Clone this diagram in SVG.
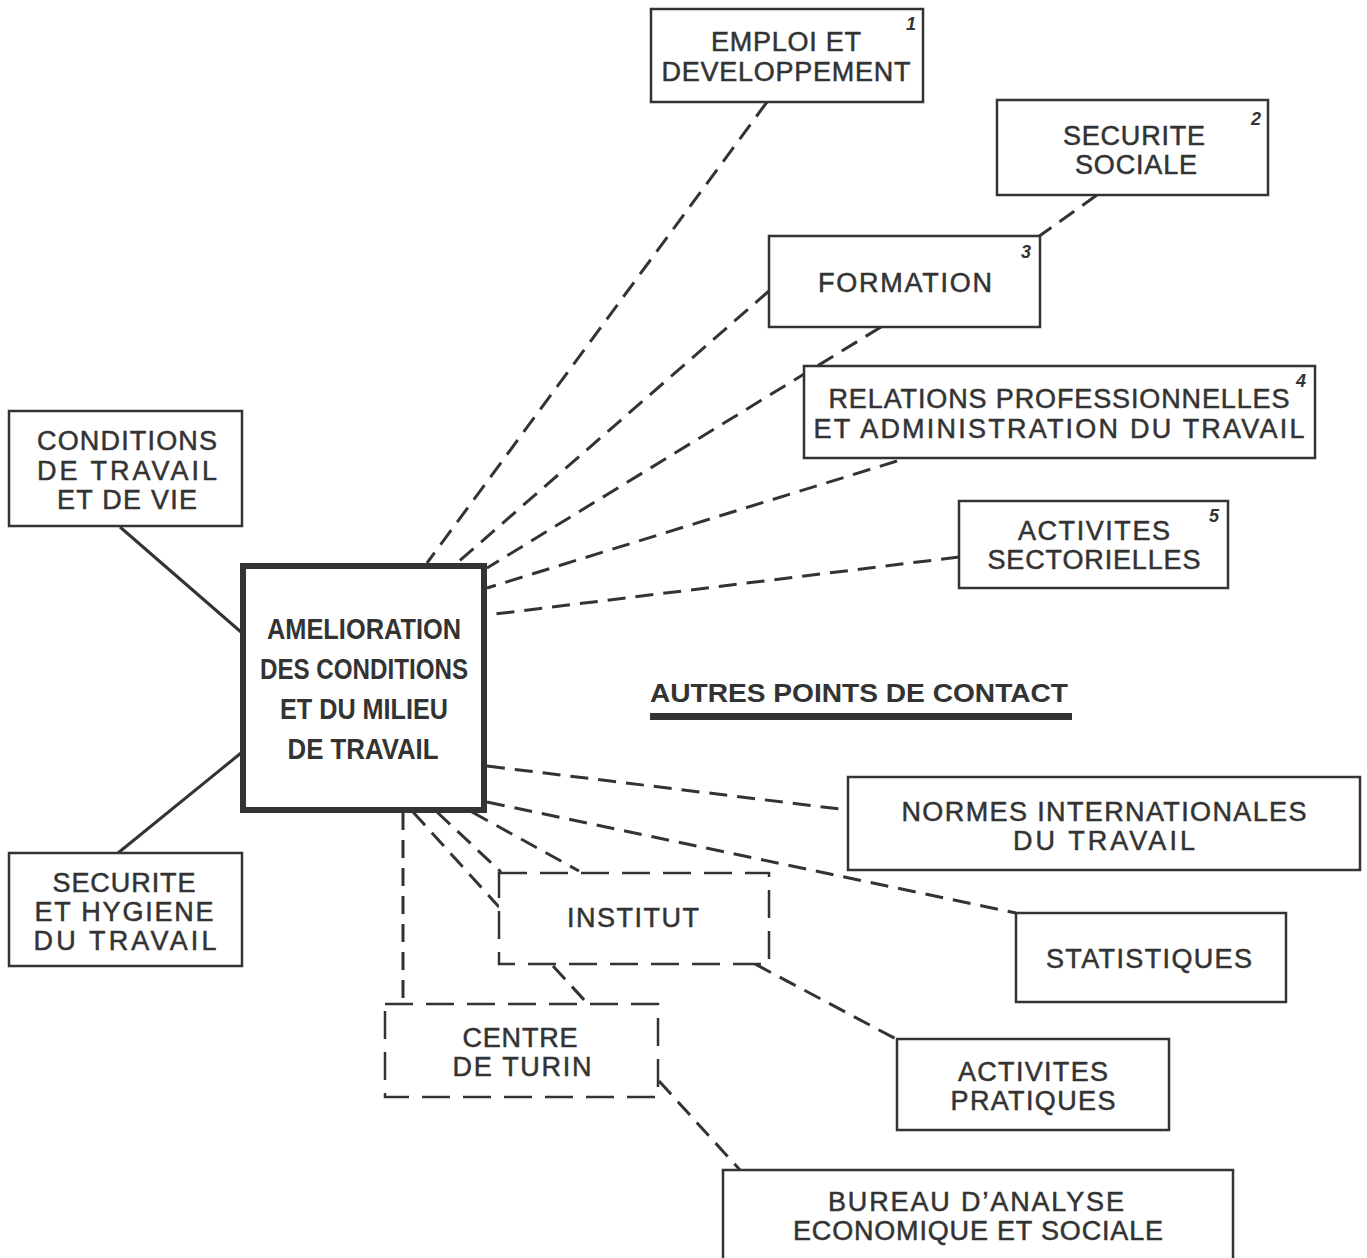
<svg xmlns="http://www.w3.org/2000/svg" width="1367" height="1258" viewBox="0 0 1367 1258">
<style>
.bg{fill:#fff}
.box{fill:#fff;stroke:#333;stroke-width:2.5}
.dbox{fill:#fff;stroke:#333;stroke-width:2.5;stroke-dasharray:28 13}
.main{fill:#fff;stroke:#333;stroke-width:6}
.t{font-family:"Liberation Sans",Arial,sans-serif;font-size:27px;fill:#333;stroke:#333;stroke-width:0.5;text-anchor:middle}
.tb{font-family:"Liberation Sans",Arial,sans-serif;font-size:29px;font-weight:bold;fill:#333;text-anchor:middle}
.n{font-family:"Liberation Sans",Arial,sans-serif;font-size:18px;font-style:italic;font-weight:bold;fill:#333;text-anchor:middle}
.solid{stroke:#333;stroke-width:3;fill:none}
.dash{stroke:#333;stroke-width:3;fill:none;stroke-dasharray:18 10}
</style>
<rect class="bg" x="0" y="0" width="1367" height="1258"/>
<g id="connectors">
<line class="solid" x1="120" y1="527" x2="241" y2="632"/>
<line class="solid" x1="118" y1="853" x2="241" y2="753"/>
<line class="dash" x1="767" y1="102" x2="427" y2="563"/>
<line class="dash" x1="1097" y1="195" x2="1038" y2="237"/>
<line class="dash" x1="769" y1="291" x2="457" y2="563"/>
<line class="dash" x1="881" y1="327" x2="487" y2="568"/>
<line class="dash" x1="897" y1="461" x2="487" y2="588"/>
<line class="dash" x1="959" y1="557" x2="487" y2="615"/>
<line class="dash" x1="487" y1="766" x2="848" y2="810"/>
<line class="dash" x1="487" y1="802" x2="1016" y2="913"/>
<line class="dash" x1="403" y1="812" x2="403" y2="1004"/>
<line class="dash" x1="413" y1="812" x2="499" y2="907"/>
<line class="dash" x1="437" y1="812" x2="501" y2="872"/>
<line class="dash" x1="472" y1="812" x2="579" y2="871"/>
<line class="dash" x1="553" y1="966" x2="587" y2="1003"/>
<line class="dash" x1="755" y1="964" x2="896" y2="1039"/>
<line class="dash" x1="659" y1="1081" x2="740" y2="1170"/>
</g>
<g id="node-emploi">
<rect class="box" x="651" y="9" width="272" height="93"/>
<text class="t" x="786" y="51" textLength="150" lengthAdjust="spacing">EMPLOI ET</text>
<text class="t" x="786" y="81" textLength="249" lengthAdjust="spacing">DEVELOPPEMENT</text>
<text class="n" x="911" y="30">1</text>
</g>
<g id="node-securite-sociale">
<rect class="box" x="997" y="100" width="271" height="95"/>
<text class="t" x="1134" y="145" textLength="142" lengthAdjust="spacing">SECURITE</text>
<text class="t" x="1136" y="174" textLength="122" lengthAdjust="spacing">SOCIALE</text>
<text class="n" x="1256" y="125">2</text>
</g>
<g id="node-formation">
<rect class="box" x="769" y="236" width="271" height="91"/>
<text class="t" x="905" y="292" textLength="174" lengthAdjust="spacing">FORMATION</text>
<text class="n" x="1026" y="258">3</text>
</g>
<g id="node-relations">
<rect class="box" x="804" y="366" width="511" height="92"/>
<text class="t" x="1059" y="408" textLength="461" lengthAdjust="spacing">RELATIONS PROFESSIONNELLES</text>
<text class="t" x="1059" y="438" textLength="491" lengthAdjust="spacing">ET ADMINISTRATION DU TRAVAIL</text>
<text class="n" x="1301" y="387">4</text>
</g>
<g id="node-activites-sectorielles">
<rect class="box" x="959" y="501" width="269" height="87"/>
<text class="t" x="1094" y="540" textLength="152" lengthAdjust="spacing">ACTIVITES</text>
<text class="t" x="1094" y="569" textLength="213" lengthAdjust="spacing">SECTORIELLES</text>
<text class="n" x="1214" y="522">5</text>
</g>
<g id="node-conditions">
<rect class="box" x="9" y="411" width="233" height="115"/>
<text class="t" x="127" y="450" textLength="180" lengthAdjust="spacing">CONDITIONS</text>
<text class="t" x="127" y="480" textLength="180" lengthAdjust="spacing">DE TRAVAIL</text>
<text class="t" x="127" y="509" textLength="140" lengthAdjust="spacing">ET DE VIE</text>
</g>
<g id="node-securite-hygiene">
<rect class="box" x="9" y="853" width="233" height="113"/>
<text class="t" x="124" y="892" textLength="143" lengthAdjust="spacing">SECURITE</text>
<text class="t" x="124" y="921" textLength="179" lengthAdjust="spacing">ET HYGIENE</text>
<text class="t" x="125" y="950" textLength="183" lengthAdjust="spacing">DU TRAVAIL</text>
</g>
<g id="node-central">
<rect class="main" x="243" y="566" width="241" height="244"/>
<text class="tb" x="364" y="639" textLength="194" lengthAdjust="spacingAndGlyphs">AMELIORATION</text>
<text class="tb" x="364" y="679" textLength="208" lengthAdjust="spacingAndGlyphs">DES CONDITIONS</text>
<text class="tb" x="364" y="719" textLength="168" lengthAdjust="spacingAndGlyphs">ET DU MILIEU</text>
<text class="tb" x="363" y="759" textLength="151" lengthAdjust="spacingAndGlyphs">DE TRAVAIL</text>
</g>
<g id="heading-autres">
<text class="tb" x="859" y="702" style="font-size:26px" textLength="418" lengthAdjust="spacingAndGlyphs">AUTRES POINTS DE CONTACT</text>
<rect x="650" y="713" width="422" height="7" fill="#333"/>
</g>
<g id="node-normes">
<rect class="box" x="848" y="777" width="512" height="93"/>
<text class="t" x="1104" y="821" textLength="405" lengthAdjust="spacing">NORMES INTERNATIONALES</text>
<text class="t" x="1104" y="850" textLength="182" lengthAdjust="spacing">DU TRAVAIL</text>
</g>
<g id="node-statistiques">
<rect class="box" x="1016" y="913" width="270" height="89"/>
<text class="t" x="1149" y="968" textLength="206" lengthAdjust="spacing">STATISTIQUES</text>
</g>
<g id="node-institut">
<rect class="dbox" x="499" y="873" width="270" height="91"/>
<text class="t" x="633" y="927" textLength="132" lengthAdjust="spacing">INSTITUT</text>
</g>
<g id="node-centre-turin">
<rect class="dbox" x="385" y="1004" width="273" height="93"/>
<text class="t" x="520" y="1047" textLength="115" lengthAdjust="spacing">CENTRE</text>
<text class="t" x="522" y="1076" textLength="139" lengthAdjust="spacing">DE TURIN</text>
</g>
<g id="node-activites-pratiques">
<rect class="box" x="897" y="1039" width="272" height="91"/>
<text class="t" x="1033" y="1081" textLength="150" lengthAdjust="spacing">ACTIVITES</text>
<text class="t" x="1033" y="1110" textLength="165" lengthAdjust="spacing">PRATIQUES</text>
</g>
<g id="node-bureau">
<rect class="box" x="723" y="1170" width="510" height="110"/>
<text class="t" x="976" y="1211" textLength="296" lengthAdjust="spacing">BUREAU D’ANALYSE</text>
<text class="t" x="978" y="1240" textLength="370" lengthAdjust="spacing">ECONOMIQUE ET SOCIALE</text>
</g>
</svg>
